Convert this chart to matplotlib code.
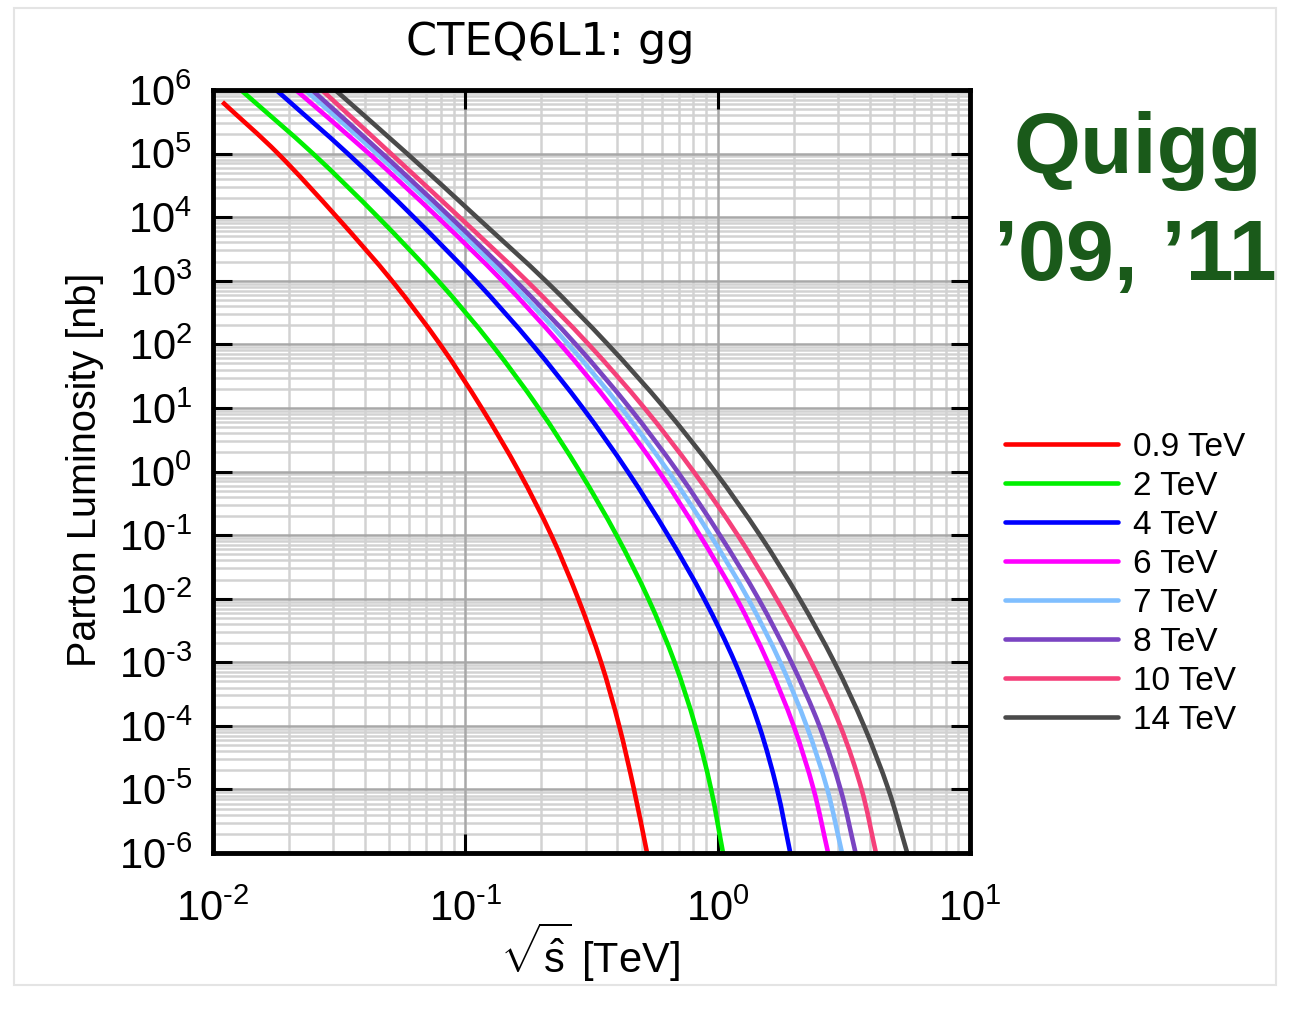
import numpy as np
import matplotlib.pyplot as plt
from matplotlib.patches import Rectangle, PathPatch
from matplotlib.path import Path
from matplotlib.lines import Line2D
from matplotlib.ticker import LogLocator, FuncFormatter, NullLocator

plt.rcParams['font.family'] = ['Liberation Sans', 'DejaVu Sans']
plt.rcParams['mathtext.fontset'] = 'custom'
plt.rcParams['mathtext.rm'] = 'Liberation Sans'
plt.rcParams['mathtext.it'] = 'Liberation Sans:italic'
plt.rcParams['mathtext.bf'] = 'Liberation Sans:bold'

lum_levels = [1e6, 1e5, 1e4, 1e3, 1e2, 1e1, 1e0, 1e-1, 1e-2, 1e-3, 1e-4, 1e-5, 1e-6]
lum_red = [6.47e5] + lum_levels[1:]

rs_09 = [0.0109, 0.0181, 0.0310, 0.0512, 0.0794, 0.116, 0.163, 0.219, 0.280, 0.345, 0.407, 0.466, 0.525]
rs_2 = [0.0129, 0.0249, 0.0451, 0.0780, 0.127, 0.195, 0.284, 0.397, 0.531, 0.675, 0.815, 0.942, 1.05]
rs_4 = [0.0178, 0.0342, 0.0625, 0.110, 0.184, 0.292, 0.440, 0.635, 0.883, 1.17, 1.46, 1.72, 1.94]
rs_6 = [0.0213, 0.0415, 0.0776, 0.140, 0.238, 0.384, 0.585, 0.849, 1.19, 1.58, 2.00, 2.40, 2.74]
rs_7 = [0.0232, 0.0446, 0.0830, 0.149, 0.256, 0.415, 0.638, 0.935, 1.32, 1.77, 2.25, 2.72, 3.11]
rs_8 = [0.0247, 0.0469, 0.0873, 0.158, 0.274, 0.448, 0.693, 1.02, 1.45, 1.96, 2.53, 3.07, 3.52]
rs_10 = [0.0270, 0.0507, 0.0948, 0.175, 0.308, 0.512, 0.802, 1.20, 1.71, 2.35, 3.06, 3.72, 4.24]
rs_14 = [0.0305, 0.0588, 0.111, 0.208, 0.367, 0.615, 0.975, 1.47, 2.11, 2.90, 3.80, 4.75, 5.64]

labels = ['0.9 TeV', '2 TeV', '4 TeV', '6 TeV', '7 TeV', '8 TeV', '10 TeV', '14 TeV']
series = [rs_09, rs_2, rs_4, rs_6, rs_7, rs_8, rs_10, rs_14]
colors = ['#ff0000', '#00f000', '#0000ff', '#ff00ff', '#80bfff', '#7a44c2', '#f5407a', '#4a4a4a']


def smooth_path(xs, ys):
    # Catmull-Rom curve through the read points, built in log-log space
    pts = np.column_stack([np.log10(xs), np.log10(ys)])
    p = np.vstack([2 * pts[0] - pts[1], pts, 2 * pts[-1] - pts[-2]])
    verts = [pts[0]]
    codes = [Path.MOVETO]
    for i in range(1, len(p) - 2):
        p0, p1, p2, p3 = p[i - 1], p[i], p[i + 1], p[i + 2]
        verts += [p1 + (p2 - p0) / 6, p2 - (p3 - p1) / 6, p2]
        codes += [Path.CURVE4] * 3
    return Path(10 ** np.array(verts), codes)


W, H = 1297, 1017
fig = plt.figure(figsize=(W / 100, H / 100), dpi=100)
ax = fig.add_axes([213 / W, 1 - 853 / H, (970 - 213) / W, (853 - 90) / H])
ax.set_xscale('log')
ax.set_yscale('log')
ax.set_xlim(1e-2, 1e1)
ax.set_ylim(1e-6, 1e6)

# grid
for e in range(-2, 1):
    for m in range(2, 10):
        ax.axvline(m * 10.0 ** e, color='#d2d2d2', lw=1.8, zorder=0.2)
for e in range(-6, 6):
    for m in range(2, 10):
        ax.axhline(m * 10.0 ** e, color='#d2d2d2', lw=1.8, zorder=0.2)
for e in range(-1, 1):
    ax.axvline(10.0 ** e, color='#a8a8a8', lw=1.8, zorder=0.25)
for e in range(-5, 6):
    ax.axhline(10.0 ** e, color='#a8a8a8', lw=1.8, zorder=0.25)

handles = []
for i, (rs, lab, c) in enumerate(zip(series, labels, colors)):
    y = lum_red if i == 0 else lum_levels
    ax.add_patch(PathPatch(smooth_path(rs, y), fill=False, edgecolor=c, lw=3.3,
                           capstyle='butt', zorder=3))
    handles.append(Line2D([], [], color=c, lw=3.3, solid_capstyle='round'))


def fmt(v, p):
    e = int(round(np.log10(v)))
    if e < 0:
        return r'$10^{\text{-}%d}$' % (-e)
    return r'$10^{%d}$' % e


for axis in (ax.xaxis, ax.yaxis):
    axis.set_major_locator(LogLocator(base=10, numticks=30))
    axis.set_minor_locator(NullLocator())
    axis.set_major_formatter(FuncFormatter(fmt))

ax.set_axisbelow(True)
ax.tick_params(which='major', direction='in', length=14, width=2.2,
               top=True, right=True, labelsize=30)
ax.tick_params(axis='x', which='major', pad=26)
ax.tick_params(axis='y', which='major', pad=15)
for s in ax.spines.values():
    s.set_linewidth(3.5)
    s.set_zorder(5)

fig.text(550 / W, 1 - 42 / H, 'CTEQ6L1: gg', ha='center', va='center',
         fontsize=32, family='DejaVu Sans')
fig.text(85 / W, 1 - 470 / H, 'Parton Luminosity [nb]', rotation=90,
         ha='center', va='center', fontsize=28.5)
fig.text(590 / W, 1 - 952 / H, r'$\sqrt{\hat{\mathrm{s}}}$ [TeV]',
         ha='center', va='center', fontsize=30)

fig.text(1138 / W, 1 - 173 / H, 'Quigg', ha='center', va='baseline',
         fontsize=62, fontweight='bold', color='#1a5a1a')
fig.text(1135 / W, 1 - 280 / H, '\u201909, \u201911', ha='center', va='baseline',
         fontsize=62, fontweight='bold', color='#1a5a1a')

ax.legend(handles, labels, loc='upper left', bbox_to_anchor=(1005 / W, 1 - 432 / H),
          bbox_transform=fig.transFigure, frameon=False, fontsize=24,
          handlelength=3.4, handletextpad=0.45, labelspacing=0.24,
          borderpad=0, borderaxespad=0)

fig.add_artist(Rectangle((14 / W, 1 - 985 / H), (1276 - 14) / W, (985 - 8) / H,
                         transform=fig.transFigure, fill=False,
                         edgecolor='#e4e4e4', lw=1.5))

fig.savefig('out.png', dpi=100)
